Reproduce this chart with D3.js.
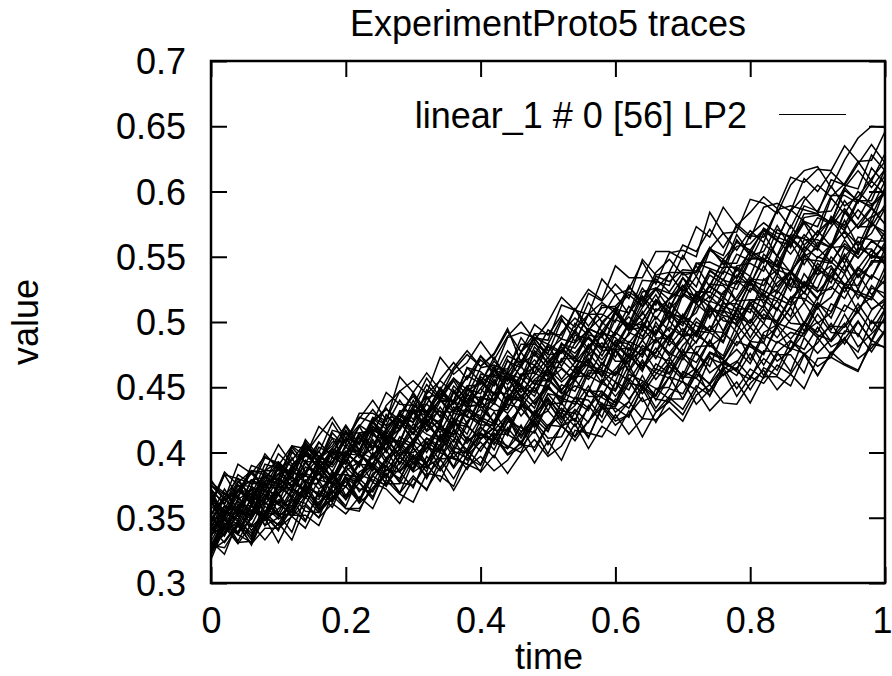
<!DOCTYPE html>
<html><head><meta charset="utf-8">
<script src="https://cdn.jsdelivr.net/npm/d3@7"></script>
<style>
body{margin:0;background:#fff}
svg{display:block}
text{font-family:"Liberation Sans",Arial,Helvetica,sans-serif;font-size:36px;fill:#000}
</style>
</head><body>
<svg id="chart" width="892" height="676"></svg>
<script>
// ---- data (trace values in thousandths of "value") ----
const chartTitle = "ExperimentProto5 traces";
const xLabel = "time";
const yLabel = "value";
const legendLabel = "linear_1 # 0 [56] LP2";
const xTicks = [0, 0.2, 0.4, 0.6, 0.8, 1];
const xTickLabels = ["0", "0.2", "0.4", "0.6", "0.8", "1"];
const yTicks = [0.3, 0.35, 0.4, 0.45, 0.5, 0.55, 0.6, 0.65, 0.7];
const yTickLabels = ["0.3", "0.35", "0.4", "0.45", "0.5", "0.55", "0.6", "0.65", "0.7"];
const times = [0,0.02,0.04,0.06,0.08,0.1,0.12,0.14,0.16,0.18,0.2,0.22,0.24,0.26,0.28,0.3,0.32,0.34,0.36,0.38,0.4,0.42,0.44,0.46,0.48,0.5,0.52,0.54,0.56,0.58,0.6,0.62,0.64,0.66,0.68,0.7,0.72,0.74,0.76,0.78,0.8,0.82,0.84,0.86,0.88,0.9,0.92,0.94,0.96,0.98,1];
const valueUnit = 0.001;

const tr01 = [350,341,365,355,350,374,373,366,392,380,394,381,398,410,398,408,426,408,426,421,441,422,443,452,443,464,448,460,472,458,479,480,475,500,485,505,497,493,514,514,507,533,522,538,527,542,530,557,549,562,555];
const tr02 = [326,344,337,331,353,353,339,366,354,365,378,361,371,383,369,393,382,395,380,398,408,396,419,406,404,421,420,412,436,423,441,434,452,434,449,445,464,443,464,470,458,472,463,485,479,496,481,487,501,485,504];
const tr03 = [366,354,371,384,373,383,402,385,404,399,420,402,423,433,425,446,431,444,457,443,465,467,462,488,474,494,487,484,506,506,500,527,516,533,523,538,527,555,548,561,555,570,562,586,577,573,597,597,591,618,606];
const tr04 = [329,349,332,352,362,351,359,374,357,377,366,380,370,394,386,398,385,413,400,400,419,412,428,413,426,416,439,439,432,456,443,457,445,460,473,457,465,486,466,485,481,475,499,495,491,512,494,513,507,528,518];
const tr05 = [359,383,380,376,399,387,394,408,391,415,404,420,433,420,429,445,427,447,439,459,453,473,455,471,467,483,477,494,479,498,511,496,506,521,503,525,519,540,532,529,549,548,539,565,555,570,558,585,573,573,590];
const tr06 = [343,359,355,374,354,375,382,370,384,376,399,392,410,395,402,416,400,420,414,432,425,420,443,442,429,456,445,456,469,453,464,476,462,487,476,490,475,493,504,492,515,503,501,519,518,510,535,523,540,534,552];
const tr07 = [318,343,330,345,333,346,333,359,350,361,353,366,357,379,368,362,384,382,374,399,385,398,384,399,410,397,405,422,403,420,413,432,412,431,439,429,448,432,443,454,438,458,458,451,475,459,477,468,463,483,481];
const tr08 = [361,383,366,386,383,380,405,403,400,423,407,427,423,446,437,436,457,442,463,475,466,475,493,477,498,490,505,496,522,516,529,518,548,536,538,559,554,571,557,573,564,588,591,585,610,600,615,605,621,636,622];
const tr09 = [332,351,345,366,348,368,378,370,390,375,388,400,386,408,409,404,430,415,435,427,424,446,445,439,466,454,471,461,476,464,492,484,497,491,505,497,521,511,507,531,530,524,551,538,553,541,557,570,559,568,587];
const tr10 = [345,369,357,369,354,371,381,368,390,377,374,391,390,380,404,391,408,401,417,399,414,409,428,406,426,432,420,433,423,445,438,455,439,444,458,441,460,453,470,462,456,478,477,462,488,476,487,499,481,491,502];
const tr11 = [341,351,367,350,372,367,389,382,379,400,400,391,418,410,425,414,442,431,431,449,438,463,460,457,481,469,477,492,476,500,490,507,520,508,518,534,517,539,532,552,547,568,550,567,564,580,575,593,579,598,612];
const tr12 = [324,349,337,356,350,368,351,367,364,384,364,385,392,382,396,388,411,405,424,409,416,431,415,436,430,449,442,437,461,461,448,475,464,477,490,474,485,497,485,510,499,513,499,518,529,517,541,529,528,546,546];
const tr13 = [365,356,377,386,373,373,390,401,388,401,391,415,417,412,408,433,428,423,448,435,437,456,438,460,461,455,479,470,469,492,488,478,498,491,509,492,511,520,510,519,535,520,538,524,548,547,545,563,549,562,562];
const tr14 = [337,344,338,359,348,357,365,348,369,358,381,372,370,387,385,373,397,386,400,387,404,415,399,407,423,406,420,426,411,436,424,429,449,431,443,455,437,448,460,465,448,465,459,480,476,466,473,493,491,477,493];
const tr15 = [352,372,356,379,381,375,400,393,393,417,414,406,427,421,440,425,445,455,446,457,474,459,478,466,491,491,490,510,497,511,512,523,516,538,548,536,538,556,568,555,570,561,586,589,586,583,609,605,602,628,616];
const tr16 = [325,332,346,329,352,341,357,369,356,365,380,362,382,374,393,387,407,388,404,400,415,409,426,411,429,442,427,436,451,433,454,448,469,461,457,477,476,466,492,482,496,484,511,499,498,515,503,527,523,519,542];
const tr17 = [372,360,383,376,377,399,389,403,387,403,396,415,416,402,430,418,429,421,446,435,449,438,458,441,456,464,454,463,483,467,486,483,473,494,488,506,489,510,505,502,526,520,516,535,515,536,543,528,541,555,544];
const tr18 = [347,365,353,353,375,384,375,373,396,392,411,396,403,417,430,414,427,441,425,447,454,444,471,458,466,482,466,484,494,480,493,512,501,517,508,534,523,523,542,542,535,560,551,574,559,569,579,570,593,589,598];
const tr19 = [339,353,349,364,344,364,357,375,367,386,367,382,390,376,388,403,391,413,396,409,415,402,424,419,415,438,425,442,440,427,454,441,454,444,469,458,457,476,471,463,483,476,496,478,492,500,485,497,514,499,515];
const tr20 = [349,364,356,379,374,392,378,385,401,385,406,400,420,413,408,432,432,420,447,437,449,463,447,459,471,459,484,473,488,474,493,504,493,517,506,504,523,523,516,541,529,548,542,561,544,561,557,578,558,580,587];
const tr21 = [324,344,353,343,353,369,354,372,359,383,383,381,400,386,400,400,411,402,424,433,421,421,439,450,437,450,441,465,467,463,459,485,480,476,501,489,491,511,493,516,517,511,535,527,526,550,546,537,557,551,569];
const tr22 = [375,364,391,384,397,390,405,397,420,411,407,430,430,424,458,446,461,448,465,478,466,476,495,469,488,483,503,485,506,515,507,528,512,525,537,523,545,546,541,567,552,572,565,561,583,583,576,603,592,608,598];
const tr23 = [335,359,355,351,371,354,372,366,388,377,374,393,377,396,406,395,403,419,401,421,410,424,413,438,429,441,429,456,443,443,462,455,471,456,469,459,481,482,474,498,485,499,488,502,515,499,507,527,508,526,522];
const tr24 = [341,366,370,366,363,389,385,382,408,396,399,420,403,426,428,423,448,440,440,465,462,453,474,469,488,472,492,503,494,504,521,506,526,513,538,538,538,557,544,558,560,571,563,585,596,584,585,603,616,603,617];
const tr25 = [326,346,339,359,350,345,364,361,350,375,364,377,364,390,377,375,391,378,401,396,390,412,398,404,417,399,421,409,424,435,421,429,442,423,442,433,451,444,463,443,458,453,467,460,476,459,476,488,472,480,494];
const tr26 = [379,364,371,386,370,390,385,404,397,392,415,415,402,429,418,430,443,427,438,451,438,463,452,466,452,470,481,469,493,481,479,498,498,490,515,503,521,515,533,516,532,528,548,528,550,557,546,560,552,575,569];
const tr27 = [324,339,347,333,359,349,355,376,360,373,386,370,382,395,402,386,404,400,422,420,411,419,441,440,427,445,443,451,447,469,459,470,479,463,486,476,500,493,492,510,510,499,524,515,530,518,537,549,534,544,561];
const tr28 = [371,352,371,379,370,389,373,384,396,380,401,401,395,419,404,422,414,409,430,428,421,446,434,449,438,451,439,465,456,468,460,474,464,487,476,471,493,492,484,510,496,510,496,512,523,511,519,537,518,536,529];
const tr29 = [339,359,356,352,376,374,371,393,377,396,391,414,405,403,424,408,429,440,431,440,456,440,461,452,467,458,483,476,489,478,507,494,496,516,511,528,514,528,519,543,545,539,563,552,567,557,573,587,572,581,603];
const tr30 = [367,353,372,360,386,386,386,406,393,408,409,421,414,436,447,436,437,456,469,456,471,462,488,492,488,486,513,509,506,533,521,525,546,529,553,555,550,584,568,569,594,591,583,605,616,619,603,624,641,650,649];
const tr31 = [342,337,360,359,352,378,365,379,366,382,394,382,391,409,391,409,403,423,404,424,433,424,444,428,440,452,437,458,459,453,478,463,482,474,470,491,490,483,509,497,513,502,516,504,531,523,535,528,542,533,556];
const tr32 = [327,349,343,361,344,350,362,374,356,369,381,364,384,390,378,404,389,396,410,394,410,419,403,415,432,420,434,424,448,437,435,453,451,443,466,456,477,461,469,479,468,490,484,492,489,506,492,491,511,519,509];
const tr33 = [371,361,375,362,380,392,380,405,393,392,410,411,403,429,417,436,430,449,432,449,445,466,446,468,475,465,479,472,495,490,508,494,501,517,501,522,516,536,529,525,548,549,536,564,553,566,579,564,575,588,575];
const tr34 = [332,322,348,338,352,340,367,355,354,371,359,383,379,375,398,385,392,406,389,412,401,417,429,416,425,440,422,442,434,453,447,467,448,464,460,475,469,486,471,489,502,487,496,511,493,514,508,529,521,517,537];
const tr35 = [359,350,371,365,384,368,388,398,389,399,416,401,420,407,432,432,431,450,437,451,452,463,455,477,487,475,476,494,506,493,507,498,523,526,522,519,545,541,537,563,551,554,574,557,580,582,576,601,593,593,617];
const tr36 = [350,339,358,340,355,362,351,360,379,362,381,377,366,387,380,398,380,400,395,391,414,408,403,421,401,421,428,412,424,438,426,439,426,449,441,441,463,452,465,449,464,457,475,475,461,488,475,486,477,501,490];
const tr37 = [377,369,365,386,385,378,404,392,408,397,411,399,426,418,430,423,437,428,451,441,436,459,458,451,477,464,478,465,481,493,481,490,508,490,508,502,522,503,523,532,523,543,527,539,551,536,557,558,552,577,562];
const tr38 = [361,354,353,372,371,361,386,377,392,381,399,412,397,407,424,409,424,432,418,445,434,441,462,446,459,473,456,469,482,489,473,492,487,510,507,499,507,529,528,516,533,532,540,536,558,549,559,569,553,576,566];
const tr39 = [329,337,352,335,354,344,357,347,371,363,374,362,389,376,376,395,388,404,388,402,391,414,414,407,430,418,431,420,434,447,431,439,459,440,458,454,448,472,468,464,484,467,485,479,500,490,486,506,489,509,518];
const tr40 = [352,366,380,364,386,393,383,410,397,405,421,406,424,434,420,433,452,441,457,448,474,464,464,483,483,476,501,492,515,500,510,521,512,535,531,540,539,557,545,545,567,576,568,566,589,585,604,589,596,610,623];
const tr41 = [336,352,362,350,363,380,370,394,378,393,401,389,413,410,407,432,421,439,439,428,456,445,460,451,478,469,469,490,487,480,502,497,519,502,518,528,514,528,547,533,551,546,562,559,576,558,579,574,594,587,608];
const tr42 = [365,350,370,371,364,389,373,392,383,379,399,398,390,416,403,419,407,421,408,435,426,438,430,444,434,457,446,441,463,462,454,480,466,480,466,482,493,481,489,507,488,506,499,519,499,519,527,518,537,521,532];
const tr43 = [329,327,344,330,342,342,351,342,362,371,357,357,373,384,369,382,371,395,396,391,386,411,405,400,424,411,412,431,412,434,434,427,450,441,439,462,457,447,466,459,476,459,477,486,475,484,499,483,500,486,509];
const tr44 = [363,343,364,371,360,374,366,389,383,401,386,393,408,392,412,406,425,418,413,436,436,423,450,439,451,464,448,459,471,458,483,472,486,472,490,501,489,513,501,499,517,517,509,534,522,540,534,552,535,551,547];
const tr45 = [361,361,378,367,391,388,384,408,395,403,417,401,424,414,430,443,430,440,455,438,458,451,470,465,485,467,483,480,495,490,507,493,511,525,510,520,535,518,539,534,555,548,544,565,564,555,581,572,586,575,602];
const tr46 = [346,341,360,344,365,362,359,384,379,376,395,377,398,407,392,406,421,411,425,414,438,432,433,457,447,462,447,464,458,478,479,467,495,484,496,489,514,505,519,510,530,514,530,539,529,540,560,545,565,563,553];
const tr47 = [361,385,375,374,396,392,381,401,393,411,393,412,420,410,418,434,417,435,420,444,442,440,457,443,455,455,464,455,475,484,470,470,486,497,482,495,484,508,509,504,499,524,518,513,537,524,525,544,525,547,547];
const tr48 = [337,350,339,349,368,351,370,365,386,368,389,399,391,412,397,410,423,409,431,433,428,454,440,460,453,450,472,472,466,493,482,499,489,504,493,521,514,527,521,536,528,552,543,539,563,563,557,584,572,587,575];
const tr49 = [354,352,375,360,377,360,375,383,372,380,398,380,397,389,408,397,392,414,412,402,425,417,417,438,419,437,438,424,448,442,436,460,455,449,450,473,462,474,459,469,485,484,470,478,498,488,497,496,508,493,510];
const tr50 = [340,356,347,374,367,381,370,400,388,391,411,407,424,411,426,418,442,445,439,465,454,470,460,477,491,478,487,510,492,513,510,507,532,531,528,551,535,556,551,575,566,565,586,572,593,605,596,606,623,608,629];
const tr51 = [342,331,345,336,362,353,352,373,369,362,383,378,399,382,397,407,392,406,424,410,427,422,437,434,450,432,452,447,466,459,479,462,477,487,474,487,503,493,516,500,514,522,509,533,529,526,550,539,556,556,544];
const tr52 = [375,368,366,390,386,406,391,399,413,427,411,426,440,425,447,455,445,473,460,469,485,471,489,500,486,500,519,509,525,517,543,534,534,554,554,548,573,565,588,574,584,596,587,611,607,617,616,635,623,624,646];
const tr53 = [352,336,355,349,367,360,354,377,376,363,389,378,389,402,385,396,407,394,418,407,420,406,423,434,421,445,432,430,447,447,438,463,450,468,461,479,461,477,472,492,471,492,498,487,500,492,514,508,525,510,516];
const tr54 = [369,351,371,363,382,376,396,377,393,389,404,398,415,400,418,431,416,425,440,422,443,437,458,450,446,466,465,455,481,471,485,473,500,488,487,504,492,516,512,508,531,518,525,539,522,545,534,550,562,549,558];
const tr55 = [321,345,331,332,350,331,352,352,344,367,357,355,377,372,361,380,372,389,371,389,397,386,394,409,392,409,394,417,415,412,429,414,426,425,434,424,444,452,438,437,453,463,448,460,449,472,473,467,462,486,480];
const tr56 = [362,348,363,354,378,380,374,399,388,403,393,409,423,409,418,440,422,442,439,435,460,458,455,477,461,481,476,499,490,488,509,494,515,526,517,526,543,527,548,539,554,545,571,564,577,566,595,583,600,590,600];

const traces = [tr01,tr02,tr03,tr04,tr05,tr06,tr07,tr08,tr09,tr10,tr11,tr12,tr13,tr14,
                tr15,tr16,tr17,tr18,tr19,tr20,tr21,tr22,tr23,tr24,tr25,tr26,tr27,tr28,
                tr29,tr30,tr31,tr32,tr33,tr34,tr35,tr36,tr37,tr38,tr39,tr40,tr41,tr42,
                tr43,tr44,tr45,tr46,tr47,tr48,tr49,tr50,tr51,tr52,tr53,tr54,tr55,tr56];

// ---- layout ----
const plot = {left: 211, right: 885, top: 61, bottom: 583};
const tickLen = 16;

const svg = d3.select("#chart");
const x = d3.scaleLinear().domain([0, 1]).range([plot.left, plot.right]);
const y = d3.scaleLinear().domain([0.3, 0.7]).range([plot.bottom, plot.top]);

svg.append("defs").append("clipPath").attr("id", "clip")
  .append("rect").attr("x", plot.left).attr("y", plot.top)
  .attr("width", plot.right - plot.left).attr("height", plot.bottom - plot.top);

// traces
const line = d3.line().x((d, i) => x(times[i])).y(d => y(d * valueUnit));
svg.append("g").attr("clip-path", "url(#clip)")
  .selectAll("path").data(traces).join("path")
  .attr("d", line).attr("fill", "none").attr("stroke", "#000")
  .attr("stroke-width", 1.5).attr("stroke-linejoin", "miter");

// axes with inward ticks on all four sides
const axB = d3.axisBottom(x).tickValues(xTicks).tickSize(-tickLen).tickFormat((d, i) => xTickLabels[i]);
const axT = d3.axisTop(x).tickValues(xTicks).tickSize(-tickLen).tickFormat("");
const axL = d3.axisLeft(y).tickValues(yTicks).tickSize(-tickLen).tickFormat((d, i) => yTickLabels[i]);
const axR = d3.axisRight(y).tickValues(yTicks).tickSize(-tickLen).tickFormat("");

function styleAxis(g) {
  g.select(".domain").remove();
  g.selectAll(".tick line").attr("stroke", "#000").attr("stroke-width", 2);
  g.selectAll(".tick text").attr("fill", "#000").style("font-size", "36px")
    .style("font-family", '"Liberation Sans", Arial, sans-serif');
}
const gB = svg.append("g").attr("transform", `translate(0,${plot.bottom})`).call(axB).call(styleAxis);
gB.selectAll(".tick text").attr("dy", null).attr("y", 50)
  .attr("dx", (d, i) => i === xTicks.length - 1 ? -3 : 0);
svg.append("g").attr("transform", `translate(0,${plot.top})`).call(axT).call(styleAxis);
const gL = svg.append("g").attr("transform", `translate(${plot.left},0)`).call(axL).call(styleAxis);
gL.selectAll(".tick text").attr("dy", null).attr("x", -25).attr("y", 12.5);
svg.append("g").attr("transform", `translate(${plot.right},0)`).call(axR).call(styleAxis);

// frame
svg.append("rect").attr("x", plot.left).attr("y", plot.top)
  .attr("width", plot.right - plot.left).attr("height", plot.bottom - plot.top)
  .attr("fill", "none").attr("stroke", "#000").attr("stroke-width", 2.5);

// title & axis labels
svg.append("text").attr("x", (plot.left + plot.right) / 2).attr("y", 35.5)
  .attr("text-anchor", "middle").text(chartTitle);
svg.append("text").attr("x", (plot.left + plot.right) / 2 + 1).attr("y", 669)
  .attr("text-anchor", "middle").text(xLabel);
svg.append("text").attr("transform", `translate(38,${(plot.top + plot.bottom) / 2}) rotate(-90)`)
  .attr("text-anchor", "middle").text(yLabel);

// legend
svg.append("text").attr("x", 747).attr("y", 128).attr("text-anchor", "end").text(legendLabel);
svg.append("line").attr("x1", 779).attr("x2", 846).attr("y1", 114.5).attr("y2", 114.5)
  .attr("stroke", "#000").attr("stroke-width", 1.2);
</script>
</body></html>
